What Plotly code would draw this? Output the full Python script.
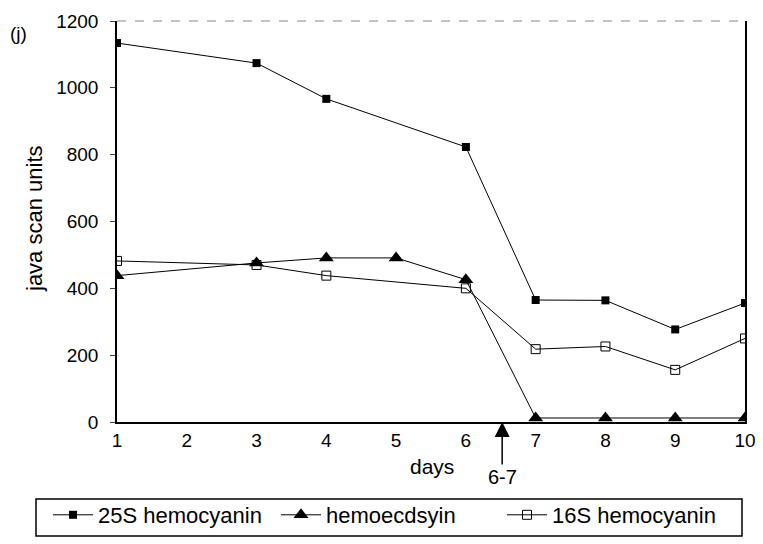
import plotly.graph_objects as go

days_25s = [1, 3, 4, 6, 7, 8, 9, 10]
vals_25s = [1134, 1074, 967, 823, 365, 364, 277, 356]

days_hemo = [1, 3, 4, 5, 6, 7, 8, 9, 10]
vals_hemo = [438, 476, 491, 491, 426, 12, 12, 12, 12]

days_16s = [1, 3, 4, 6, 7, 8, 9, 10]
vals_16s = [482, 470, 438, 400, 218, 226, 156, 250]

x_ticks = [1, 2, 3, 4, 5, 6, 7, 8, 9, 10]
y_ticks = [0, 200, 400, 600, 800, 1000, 1200]

FONT = "Liberation Sans, Arial, Helvetica, sans-serif"

# page has an 8px body margin; figure coordinates = page coordinates - 8
OFF = 8
W, H = 763 - OFF, 544 - OFF
PL, PR, PT, PB = 117, 745, 21, 422  # plot area in page coords
L, R, T, B = PL - OFF, W - (PR - OFF), PT - OFF, H - (PB - OFF)
pw, ph = PR - PL, PB - PT

def px(x):
    return (x - PL) / pw

def py(y):
    return (PB - y) / ph

fig = go.Figure()
fig.add_trace(go.Scatter(
    x=days_25s, y=vals_25s, mode="lines+markers", name="25S hemocyanin",
    line=dict(color="black", width=1),
    marker=dict(symbol="square", size=8, color="black"),
    legend="legend",
))
fig.add_trace(go.Scatter(
    x=days_hemo, y=vals_hemo, mode="lines+markers", name="hemoecdsyin",
    line=dict(color="black", width=1),
    marker=dict(symbol="triangle-up", size=13, color="black"),
    legend="legend2",
))
fig.add_trace(go.Scatter(
    x=days_16s, y=vals_16s, mode="lines+markers", name="16S hemocyanin",
    line=dict(color="black", width=1),
    marker=dict(symbol="square-open", size=9, color="black", line=dict(width=1)),
    legend="legend3",
))

leg_common = dict(
    orientation="h", font=dict(family=FONT, size=22, color="black"),
    bgcolor="rgba(0,0,0,0)", borderwidth=0, xanchor="left", yanchor="middle",
    itemwidth=40,
)

fig.update_layout(
    width=W, height=H,
    margin=dict(l=L, r=R, t=T, b=B, autoexpand=False),
    paper_bgcolor="white", plot_bgcolor="white",
    font=dict(family=FONT, size=20, color="black"),
    showlegend=True,
    legend=dict(x=px(48), y=py(515), **leg_common),
    legend2=dict(x=px(276), y=py(515), **leg_common),
    legend3=dict(x=px(502), y=py(515), **leg_common),
    xaxis=dict(
        range=[1, 10], tickvals=x_ticks, ticks="", ticklabeloverflow="allow",
        showline=True, linecolor="black", linewidth=1.5, mirror=False,
        showgrid=False, zeroline=False, tickfont=dict(size=19),
    ),
    xaxis2=dict(
        range=[1, 10], tickvals=x_ticks, ticks="outside", ticklen=5,
        tickcolor="black", showticklabels=False, overlaying="x", anchor="y",
        side="bottom", showline=False, showgrid=False, zeroline=False,
    ),
    yaxis=dict(
        range=[0, 1200], tickvals=y_ticks, ticks="outside", ticklen=5,
        ticklabelstandoff=8, ticklabeloverflow="allow",
        showline=True, linecolor="black", linewidth=1.5, mirror=True,
        showgrid=False, zeroline=False, tickfont=dict(size=19),
    ),
    shapes=[
        dict(type="line", xref="paper", yref="paper", x0=0, x1=1, y0=1, y1=1,
             line=dict(color="#888", width=1, dash="dash")),
        dict(type="rect", xref="paper", yref="paper",
             x0=px(36), x1=px(742), y0=py(499), y1=py(536),
             line=dict(color="black", width=1.5)),
    ],
    annotations=[
        dict(text="(j)", xref="paper", yref="paper", x=px(18), y=py(33),
             xanchor="center", yanchor="middle",
             showarrow=False, font=dict(size=19)),
        dict(text="java scan units", xref="paper", yref="paper", x=px(34), y=py(219),
             xanchor="center", yanchor="middle",
             showarrow=False, textangle=-90, font=dict(size=22)),
        dict(text="days", xref="paper", yref="paper", x=px(432), y=py(466),
             xanchor="center", yanchor="middle",
             showarrow=False, font=dict(size=21)),
        dict(text="6-7", x=6.52, y=0, xref="x", yref="y", ax=0, ay=55,
             showarrow=True, arrowhead=2, arrowsize=2, arrowwidth=1.5,
             arrowcolor="black", font=dict(size=20)),
    ],
)

fig.write_html("out.html")
